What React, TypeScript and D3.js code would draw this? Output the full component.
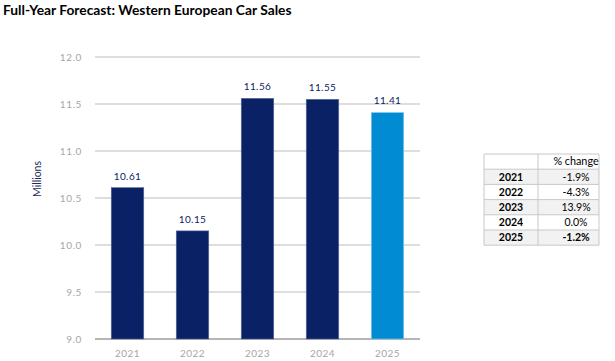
import React from "react";
import * as d3 from "d3";

const years = ["2021", "2022", "2023", "2024", "2025"];
const sales = [10.61, 10.15, 11.56, 11.55, 11.41];
const pctChange = ["-1.9%", "-4.3%", "13.9%", "0.0%", "-1.2%"];
const yTicks = [9.0, 9.5, 10.0, 10.5, 11.0, 11.5, 12.0];
const barColors = ["#0b2166", "#0b2166", "#0b2166", "#0b2166", "#008bd2"];

const W = 615;
const H = 361;
const FONT = "Lato, 'Open Sans', sans-serif";

export default function App() {
  const x = d3.scaleBand<string>().domain(years).range([95, 420]).paddingInner(0.5).paddingOuter(0.25);
  const y = d3.scaleLinear().domain([9, 12]).range([339, 57]);

  const tX = 484, tW1 = 54, tW2 = 61, tY = 154, rowH = 15.2;
  const valX = 576;

  return (
    <svg width={W} height={H} style={{ position: "absolute", left: 0, top: 0, background: "#fff" }} fontFamily={FONT}>
      <rect width={W} height={H} fill="#fff" />
      <text x={3} y={14.5} fontSize={13.8} fontWeight={700} fill="#000">
        Full-Year Forecast: Western European Car Sales
      </text>

      {yTicks.map((t) => (
        <g key={t}>
          <line x1={95} x2={420} y1={y(t)} y2={y(t)} stroke={t === 9 ? "#b5b5b5" : "#bdbdbd"} strokeWidth={t === 9 ? 2 : 1.2} />
          <text x={82} y={y(t) + 3.5} textAnchor="end" fontSize={10} fill="#a6a6a6" letterSpacing={0.6}>
            {t.toFixed(1)}
          </text>
        </g>
      ))}

      <text transform={`translate(41,179) rotate(-90)`} textAnchor="middle" fontSize={10.5} fill="#1f2a5a">
        Millions
      </text>

      {sales.map((v, i) => {
        const bx = x(years[i])!;
        return (
          <g key={years[i]}>
            <rect x={bx} y={y(v)} width={x.bandwidth()} height={y(9) - y(v)} fill={barColors[i]} stroke={i === 4 ? "#8fd0f0" : "#5a6a9e"} strokeWidth={0.6} />
            <text x={bx + x.bandwidth() / 2} y={y(v) - 8} textAnchor="middle" fontSize={10} fill="#0b2166" letterSpacing={0.4}>
              {v.toFixed(2)}
            </text>
            <text x={bx + x.bandwidth() / 2} y={357} textAnchor="middle" fontSize={10} fill="#a6a6a6" letterSpacing={0.5}>
              {years[i]}
            </text>
          </g>
        );
      })}

      <g>
        <rect x={tX} y={tY} width={tW1 + tW2} height={rowH} fill="#fff" />
        {years.map((yr, i) => (
          <rect key={yr} x={tX} y={tY + rowH * (i + 1)} width={tW1 + tW2} height={rowH} fill={i % 2 === 0 ? "#f2f2f2" : "#fff"} />
        ))}
        {d3.range(7).map((i) => (
          <line key={i} x1={tX} x2={tX + tW1 + tW2} y1={tY + rowH * i} y2={tY + rowH * i} stroke="#c8c8c8" strokeWidth={1} />
        ))}
        {[tX, tX + tW1, tX + tW1 + tW2].map((lx, i) => (
          <line key={i} x1={lx} x2={lx} y1={tY} y2={tY + rowH * 6} stroke="#c8c8c8" strokeWidth={1} />
        ))}
        <text x={valX} y={tY + rowH * 0.5 + 3.8} textAnchor="middle" fontSize={10.8} fill="#000">
          % change
        </text>
        {years.map((yr, i) => (
          <g key={yr}>
            <text x={tX + tW1 / 2} y={tY + rowH * (i + 1.5) + 3.8} textAnchor="middle" fontSize={10.5} fontWeight={700} fill="#000">
              {yr}
            </text>
            <text x={valX} y={tY + rowH * (i + 1.5) + 3.8} textAnchor="middle" fontSize={10.5} fontWeight={i === 4 ? 700 : 400} fill="#000">
              {pctChange[i]}
            </text>
          </g>
        ))}
      </g>
    </svg>
  );
}
